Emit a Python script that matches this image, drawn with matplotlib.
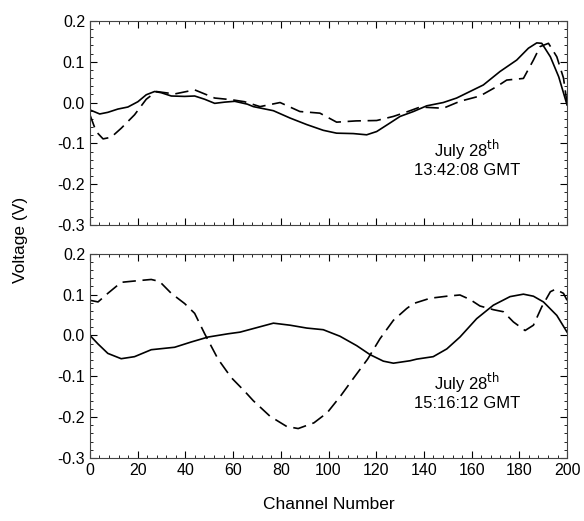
import matplotlib.pyplot as plt
from matplotlib.ticker import MultipleLocator

plt.rcParams['font.family'] = ['Liberation Sans', 'DejaVu Sans']

# top panel (13:42:08)
top_solid_x = [0, 4.1, 7.5, 11.7, 15.9, 20.1, 23.6, 27.1, 29.9, 34.1, 39.7, 43.9, 48.1, 52.3,
               56.5, 60.7, 66, 68.5, 76.9, 83.9, 90.9, 97.8, 103.4, 110.4, 116, 120.2, 125.8,
               130, 135.6, 141.2, 148.1, 153.7, 159.3, 164.9, 171.9, 178.9, 183.8, 187.3, 189.4,
               193, 196.5, 200]
top_solid_y = [-0.018, -0.028, -0.024, -0.016, -0.011, 0.002, 0.019, 0.027, 0.024, 0.016, 0.015,
               0.016, 0.008, -0.002, 0.001, 0.003, -0.004, -0.01, -0.02, -0.038, -0.054, -0.068,
               -0.075, -0.076, -0.079, -0.071, -0.05, -0.034, -0.022, -0.008, 0.0, 0.011, 0.027,
               0.043, 0.076, 0.104, 0.133, 0.146, 0.145, 0.112, 0.063, -0.006]
top_dash_x = [0, 2.6, 5.5, 8.9, 13.1, 18.7, 23.6, 27.8, 35.5, 43.9, 52.3, 59.2, 64.8, 71.3,
              79.7, 88, 96.4, 103.4, 111.5, 120.2, 127.2, 132.8, 138.4, 148.1, 155.1, 163.5,
              170.5, 174.7, 181.7, 185.9, 188.7, 192.2, 195.7, 198.5, 200]
top_dash_y = [-0.03, -0.071, -0.089, -0.085, -0.063, -0.03, 0.008, 0.027, 0.021, 0.031, 0.011,
              0.007, 0.002, -0.01, 0.0, -0.022, -0.026, -0.048, -0.045, -0.044, -0.034, -0.023,
              -0.011, -0.014, 0.003, 0.016, 0.039, 0.055, 0.059, 0.104, 0.137, 0.145, 0.112,
              0.06, -0.002]

# bottom panel (15:16:12)
bot_solid_x = [0, 3.4, 7.5, 13.1, 18.7, 25.7, 35.5, 42.5, 49.5, 57.9, 62.9, 69.9, 76.9, 83.9,
               90.9, 97.8, 104.8, 111.8, 117.4, 123, 127.2, 134.2, 137, 143.9, 149.6, 155.1,
               162.1, 169.1, 176.1, 181.7, 185.9, 190.1, 195.7, 200]
bot_solid_y = [0.0, -0.021, -0.044, -0.057, -0.052, -0.035, -0.029, -0.016, -0.004, 0.004, 0.008,
               0.019, 0.03, 0.025, 0.018, 0.014, -0.002, -0.025, -0.047, -0.063, -0.068, -0.062,
               -0.058, -0.052, -0.033, -0.004, 0.041, 0.074, 0.095, 0.101, 0.096, 0.082, 0.049,
               0.008]
bot_dash_x = [0, 3.4, 7.5, 13.1, 20.1, 25.7, 29.2, 34.1, 39.7, 43.9, 48.1, 53.7, 59.2, 64.9,
              68.5, 75.5, 82.5, 87.3, 93.9, 99.5, 105.1, 110.7, 116.4, 121.6, 127.2, 132.8,
              135.6, 142.6, 149.6, 155.1, 159.3, 163.5, 169.1, 173.3, 177.5, 182.4, 185.9, 189.4,
              193, 195.1, 198.5, 200]
bot_dash_y = [0.086, 0.082, 0.103, 0.13, 0.134, 0.137, 0.132, 0.103, 0.078, 0.054, 0.004, -0.058,
              -0.103, -0.137, -0.16, -0.198, -0.223, -0.228, -0.214, -0.189, -0.148, -0.103,
              -0.058, -0.008, 0.037, 0.066, 0.078, 0.091, 0.096, 0.099, 0.088, 0.072, 0.063,
              0.058, 0.033, 0.012, 0.025, 0.07, 0.107, 0.113, 0.103, 0.086]

labels = ['July 28$^{\\rm th}$\n13:42:08 GMT', 'July 28$^{\\rm th}$\n15:16:12 GMT']

fig = plt.figure(figsize=(5.84, 5.21), dpi=100)
ax1 = fig.add_axes([0.154, 0.568, 0.817, 0.392])
ax2 = fig.add_axes([0.154, 0.121, 0.817, 0.392])

panels = [(ax1, top_solid_x, top_solid_y, top_dash_x, top_dash_y),
          (ax2, bot_solid_x, bot_solid_y, bot_dash_x, bot_dash_y)]

for i, (ax, sx, sy, dx, dy) in enumerate(panels):
    ax.plot(sx, sy, color='black', lw=1.2)
    ax.plot(dx, dy, color='black', lw=1.2, dashes=(8, 4))
    ax.set_xlim(0, 200)
    ax.set_ylim(-0.3, 0.2)
    ax.xaxis.set_major_locator(MultipleLocator(20))
    ax.xaxis.set_minor_locator(MultipleLocator(4))
    ax.yaxis.set_major_locator(MultipleLocator(0.1))
    ax.yaxis.set_minor_locator(MultipleLocator(0.02))
    ax.tick_params(which='both', direction='in', top=True, right=True, labelsize=11.5)
    ax.tick_params(which='major', length=5)
    ax.tick_params(which='minor', length=2.5)
    ax.yaxis.set_major_formatter(plt.FuncFormatter(lambda v, p: f'{v:.1f}'.replace('-0.0', '0.0')))
    for s in ax.spines.values():
        s.set_color('#444444')
    ax.text(0.79, 0.33, labels[i], transform=ax.transAxes, ha='center', va='center',
            fontsize=12, linespacing=1.1)

ax1.tick_params(labelbottom=False)
ax2.set_xlabel('Channel Number', fontsize=12.5, labelpad=14)
fig.text(0.035, 0.54, 'Voltage (V)', rotation=90, ha='center', va='center', fontsize=12.5)

fig.savefig('out.png', dpi=100)
